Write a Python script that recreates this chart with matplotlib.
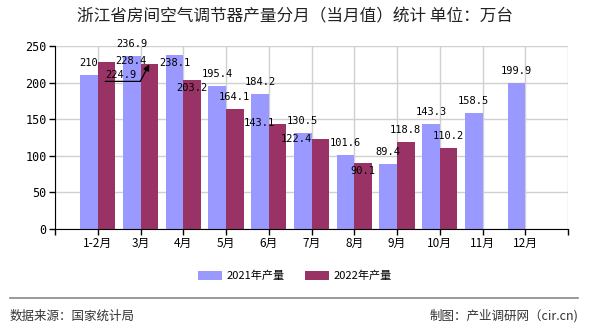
import matplotlib
matplotlib.use("Agg")
import matplotlib.pyplot as plt
import matplotlib.transforms as mtransforms
import numpy as np

plt.rcParams['font.family'] = ['Noto Sans CJK SC', 'DejaVu Sans']

categories = ["1-2月", "3月", "4月", "5月", "6月", "7月", "8月", "9月", "10月", "11月", "12月"]
prod_2021 = [210, 236.9, 238.1, 195.4, 184.2, 130.5, 101.6, 89.4, 143.3, 158.5, 199.9]
prod_2022 = [228.4, 224.9, 203.2, 164.1, 143.1, 122.4, 90.1, 118.8, 110.2, None, None]
series_names = ["2021年产量", "2022年产量"]
y_ticks = [0, 50, 100, 150, 200, 250]

c2021 = "#9999FF"
c2022 = "#993366"

fig = plt.figure(figsize=(5.9, 3.3), dpi=100)
ax = fig.add_axes([55/590, 1-229/330, (568-55)/590, (229-46)/330])

x = np.arange(1, len(categories) + 1)
w = 0.41
v21 = np.array(prod_2021, dtype=float)
v22 = np.array([np.nan if v is None else v for v in prod_2022], dtype=float)
b1 = ax.bar(x - w/2, v21, w, color=c2021, label=series_names[0], zorder=3)
b2 = ax.bar(x + w/2, v22, w, color=c2022, label=series_names[1], zorder=3)

ax.set_xlim(0, 12)
ax.set_ylim(0, 250)
ax.set_xticks(np.arange(0, 13))
ax.set_xticklabels([""] + categories + [""], fontsize=8.5)
ax.set_yticks(y_ticks)
ax.set_yticklabels([str(t) for t in y_ticks], fontsize=8.5, family='DejaVu Sans Mono')
ax.tick_params(axis='x', length=4, width=1, pad=2, colors='black')
ax.tick_params(axis='y', length=4, width=1, pad=2, colors='black')
ax.grid(True, color='#d0d0d0', linewidth=1, zorder=0)
ax.set_axisbelow(True)
for s in ['top', 'right']:
    ax.spines[s].set_visible(False)
ax.spines['left'].set_color('black')
ax.spines['bottom'].set_color('black')
ax.spines['bottom'].set_zorder(4)

# label offsets in pixels (dx, dy of label center relative to bar top)
off21 = {2: (0, -8)}
off22 = {0: (24, 1), 2: (0, -8), 4: (-18, 1), 5: (-24, 0), 6: (0, -8)}
lab_font = dict(fontsize=7.5, family='DejaVu Sans Mono', color='black', zorder=5)

for i, v in enumerate(v21):
    dx, dy = off21.get(i, (0, 12))
    ax.annotate(f"{v:g}", xy=(x[i] - w/2, v), xytext=(dx, dy), textcoords='offset pixels',
                ha='center', va='center', **lab_font)
for i, v in enumerate(v22):
    if np.isnan(v):
        continue
    if i == 1:
        # leader-line label
        tip = (x[i] + w/2, v)
        ax.annotate(f"{v:g}", xy=tip, xytext=(-44, -16), textcoords='offset pixels',
                    ha='left', va='bottom', **lab_font)
        ax.annotate("", xy=tip, xytext=(-9, -17), textcoords='offset pixels',
                    arrowprops=dict(arrowstyle='-|>', color='black', lw=0.9,
                                    mutation_scale=9, shrinkA=0, shrinkB=0), zorder=5)
        corner = mtransforms.offset_copy(ax.transData, fig=fig, x=-9, y=-17, units='dots')
        ax.annotate("", xy=tip, xycoords=corner, xytext=(-35, 0), textcoords='offset pixels',
                    arrowprops=dict(arrowstyle='-', color='black', lw=0.9,
                                    shrinkA=0, shrinkB=0), zorder=5)
        continue
    dx, dy = off22.get(i, (0, 12))
    ax.annotate(f"{v:g}", xy=(x[i] + w/2, v), xytext=(dx, dy), textcoords='offset pixels',
                ha='center', va='center', **lab_font)

fig.text(0.5, 1-17/330, "浙江省房间空气调节器产量分月（当月值）统计 单位：万台",
         ha='center', va='center', fontsize=12, color='#222222')

fig.legend(handles=[b1, b2], labels=series_names, loc='center', bbox_to_anchor=(0.5, 1-276/330),
           ncol=2, frameon=False, fontsize=8, handlelength=2.2, handleheight=0.9,
           columnspacing=1.8, handletextpad=0.4)

fig.add_artist(plt.Line2D([10/590, 578/590], [1-298/330, 1-298/330], color='#888888', lw=1.2))
fig.text(10/590, 1-316/330, "数据来源：国家统计局", ha='left', va='center', fontsize=9, color='#333333')
fig.text(578/590, 1-316/330, "制图：产业调研网（cir.cn)", ha='right', va='center', fontsize=9, color='#333333')

fig.savefig("out.png", dpi=100)
